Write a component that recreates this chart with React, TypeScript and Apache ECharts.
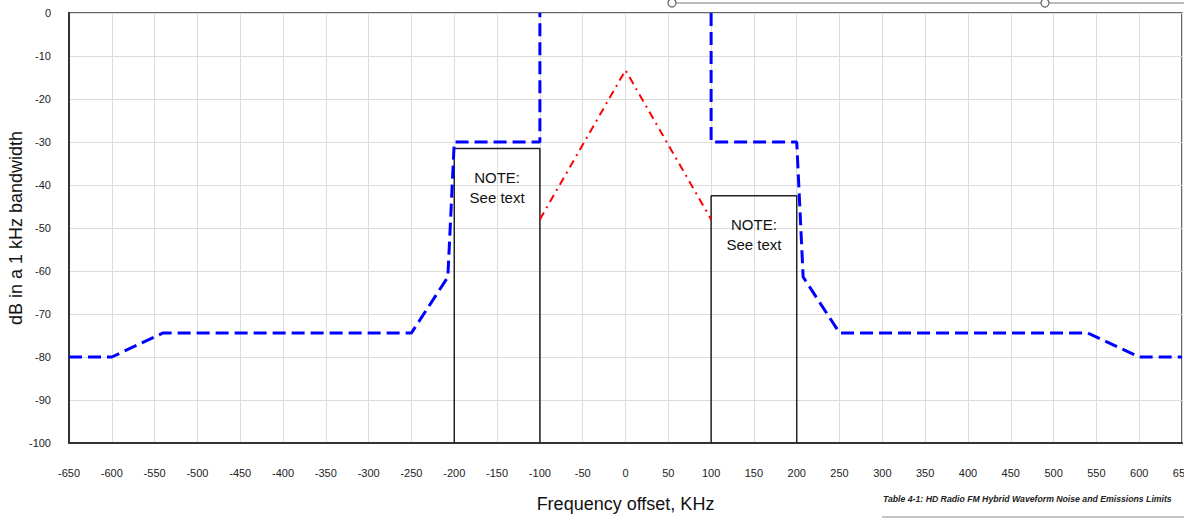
import React, { useEffect, useRef } from "react";
import * as echarts from "echarts";

// Frequency offsets (kHz) and levels (dB in 1 kHz)
const maskLeftX = [-650, -600, -540, -250, -207.5, -200, -100, -100];
const maskLeftY = [-80, -80, -74.4, -74.4, -61.4, -30, -30, 0];
const maskRightX = [100, 100, 200, 207.5, 250, 540, 600, 650];
const maskRightY = [0, -30, -30, -61.4, -74.4, -74.4, -80, -80];
const analogX = [-100, 0, 100];
const analogY = [-48, -13.3, -48];
const boxLeftX = [-200, -200, -100, -100];
const boxLeftY = [-100, -31.5, -31.5, -100];
const boxRightX = [100, 100, 200, 200];
const boxRightY = [-100, -42.5, -42.5, -100];
const noteText = "NOTE:\nSee text";
const xTitle = "Frequency offset, KHz";
const yTitle = "dB in a 1 kHz bandwidth";
const caption = "Table 4-1: HD Radio FM Hybrid Waveform Noise and Emissions Limits";

const zip = (xs: number[], ys: number[]) => xs.map((x, i) => [x, ys[i]]);

export default function App() {
  const ref = useRef<HTMLDivElement>(null);
  useEffect(() => {
    document.body.style.margin = "0";
    const chart = echarts.init(ref.current!, undefined, { renderer: "svg" });
    const font = "Liberation Sans, Arial, sans-serif";
    const blue = {
      type: "line" as const,
      showSymbol: false,
      lineStyle: { color: "#0000ff", width: 3, type: [13, 6] },
      z: 3,
    };
    const box = {
      type: "line" as const,
      showSymbol: false,
      lineStyle: { color: "#222", width: 1.5 },
      z: 2,
    };
    const noteLabel = {
      show: true,
      formatter: noteText,
      fontSize: 15,
      lineHeight: 20,
      color: "#111",
      fontFamily: font,
    };
    chart.setOption({
      animation: false,
      grid: {
        left: 69,
        right: 2,
        top: 13,
        bottom: 75,
        show: true,
        borderColor: "#333",
        borderWidth: 1.5,
        outerBoundsMode: "none",
        containLabel: false,
      },
      xAxis: {
        type: "value",
        min: -650,
        max: 650,
        interval: 50,
        name: xTitle,
        nameLocation: "middle",
        nameGap: 52,
        nameMoveOverlap: false,
        nameTextStyle: { fontSize: 18, color: "#111", fontFamily: font },
        axisLine: { show: true, onZero: false, lineStyle: { color: "#333", width: 2 } },
        axisTick: { show: false },
        axisLabel: { fontSize: 11, color: "#222", margin: 24, fontFamily: font },
        splitLine: { show: true, lineStyle: { color: "#dcdcdc", width: 1 } },
      },
      yAxis: {
        type: "value",
        min: -100,
        max: 0,
        interval: 10,
        name: yTitle,
        nameLocation: "middle",
        nameGap: 44,
        nameMoveOverlap: false,
        nameTextStyle: { fontSize: 18, color: "#111", fontFamily: font },
        axisLine: { show: true, onZero: false, lineStyle: { color: "#333", width: 2 } },
        axisTick: { show: false },
        axisLabel: { fontSize: 11, color: "#222", margin: 18, fontFamily: font },
        splitLine: { show: true, lineStyle: { color: "#dcdcdc", width: 1 } },
      },
      series: [
        { ...blue, data: zip(maskLeftX, maskLeftY) },
        { ...blue, data: zip(maskRightX, maskRightY) },
        {
          type: "line",
          showSymbol: false,
          data: zip(analogX, analogY),
          lineStyle: { color: "#ff0000", width: 2, type: [8, 5, 2, 5] },
          z: 3,
        },
        {
          ...box,
          data: zip(boxLeftX, boxLeftY),
          markPoint: {
            symbol: "rect",
            symbolSize: 0,
            data: [{ coord: [(boxLeftX[0] + boxLeftX[2]) / 2, boxLeftY[1] - 9] }],
            label: noteLabel,
          },
        },
        {
          ...box,
          data: zip(boxRightX, boxRightY),
          markPoint: {
            symbol: "rect",
            symbolSize: 0,
            data: [{ coord: [(boxRightX[0] + boxRightX[2]) / 2, boxRightY[1] - 9] }],
            label: noteLabel,
          },
        },
      ],
      graphic: [
        {
          type: "line",
          shape: { x1: 676, y1: 3, x2: 1184, y2: 3 },
          style: { stroke: "#777", lineWidth: 1 },
        },
        {
          type: "circle",
          shape: { cx: 672, cy: 3, r: 4 },
          style: { stroke: "#666", fill: "#fff", lineWidth: 1.2 },
        },
        {
          type: "circle",
          shape: { cx: 1045, cy: 3, r: 4 },
          style: { stroke: "#666", fill: "#fff", lineWidth: 1.2 },
        },
        {
          type: "text",
          x: 883,
          y: 499,
          style: {
            text: caption,
            font: "italic bold 8.7px 'Liberation Sans', Arial, sans-serif",
            fill: "#222",
            textVerticalAlign: "middle",
          },
        },
        {
          type: "line",
          shape: { x1: 882, y1: 517, x2: 1184, y2: 517 },
          style: { stroke: "#888", lineWidth: 1 },
        },
      ],
    });
    return () => chart.dispose();
  }, []);
  return <div ref={ref} style={{ width: 1184, height: 518 }} />;
}
